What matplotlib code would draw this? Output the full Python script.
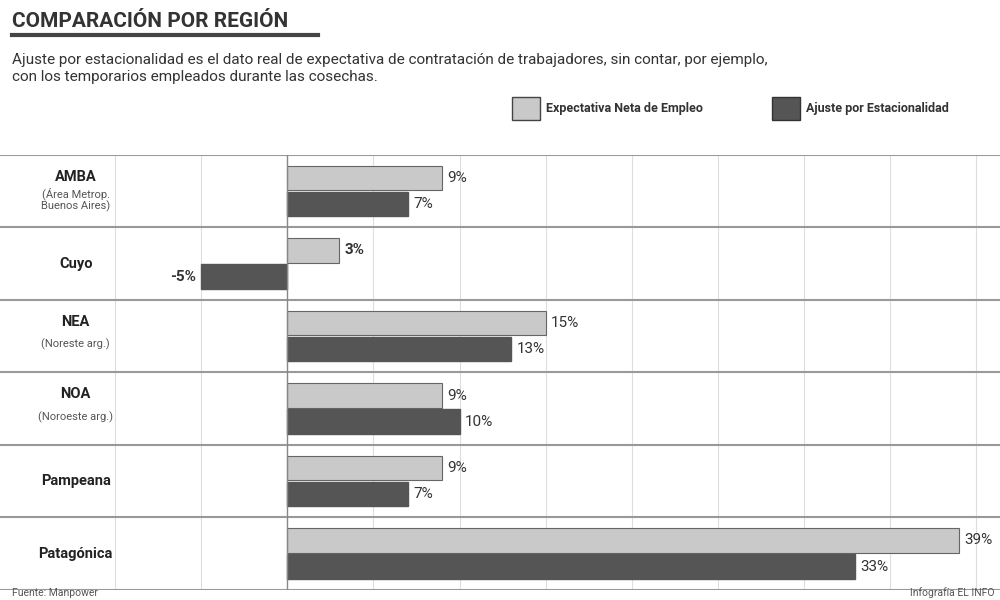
import matplotlib
matplotlib.use("Agg")
import matplotlib.pyplot as plt
import numpy as np

REGIONS = ["AMBA", "Cuyo", "NEA", "NOA", "Pampeana", "Patagónica"]
SUBLABELS = ["(Área Metrop.\nBuenos Aires)", "", "(Noreste arg.)", "(Noroeste arg.)", "", ""]
EXPECTATIVA = [9, 3, 15, 9, 9, 39]
AJUSTE = [7, -5, 13, 10, 7, 33]
LIGHT = "#c9c9c9"
DARK = "#555555"
FONT = ["Roboto", "DejaVu Sans"]

fig = plt.figure(figsize=(10, 6), dpi=100)
fig.patch.set_facecolor("white")

fig.text(0.012, 0.948, "COMPARACIÓN POR REGIÓN", fontsize=15, fontweight="bold",
         color="#333333", family=FONT, va="bottom")
fig.add_artist(plt.Line2D([0.012, 0.318], [0.942, 0.942], color="#444444", lw=3))
fig.text(0.012, 0.912, "Ajuste por estacionalidad es el dato real de expectativa de contratación de trabajadores, sin contar, por ejemplo,\ncon los temporarios empleados durante las cosechas.",
         fontsize=11, color="#333333", va="top", family=FONT, linespacing=1.3)

# legend
fig.patches.append(plt.Rectangle((0.512, 0.800), 0.028, 0.038, transform=fig.transFigure,
                                 facecolor=LIGHT, edgecolor="#444444", lw=1))
fig.text(0.546, 0.819, "Expectativa Neta de Empleo", fontsize=9, fontweight="bold",
         va="center", color="#333333", family=FONT)
fig.patches.append(plt.Rectangle((0.772, 0.800), 0.028, 0.038, transform=fig.transFigure,
                                 facecolor=DARK, edgecolor="#333333", lw=1))
fig.text(0.806, 0.819, "Ajuste por Estacionalidad", fontsize=9, fontweight="bold",
         va="center", color="#333333", family=FONT)

ax = fig.add_axes([0, 0.017, 1, 0.725])
n = len(REGIONS)
xmin, xmax = -16.7, 41.4
ax.set_xlim(xmin, xmax)
ax.set_ylim(n, 0)
for s in ax.spines.values():
    s.set_visible(False)
ax.set_xticks([])
ax.set_yticks([])

for g in np.arange(-10, 41, 5):
    ax.axvline(g, color="#dddddd", lw=0.8, zorder=0)
ax.axvline(0, color="#888888", lw=1, zorder=3)
for k in range(n + 1):
    ax.axhline(k, color="#999999", lw=1.5, zorder=1)

h = 0.34
for i in range(n):
    y1 = i + 0.5 - h / 2 - 0.01
    y2 = i + 0.5 + h / 2 + 0.01
    ax.barh(y1, EXPECTATIVA[i], height=h, color=LIGHT, edgecolor="#666666", lw=0.8, zorder=2)
    ax.barh(y2, AJUSTE[i], height=h, color=DARK, edgecolor=DARK, zorder=2)
    bold = REGIONS[i] == "Cuyo"
    for v, y in ((EXPECTATIVA[i], y1), (AJUSTE[i], y2)):
        if v >= 0:
            ax.text(v + 0.3, y, f"{v}%", va="center", ha="left", fontsize=11,
                    fontweight="bold" if bold else "normal", color="#333333", family=FONT)
        else:
            ax.text(v - 0.3, y, f"{v}%", va="center", ha="right", fontsize=11,
                    fontweight="bold", color="#333333", family=FONT)
    lx = -12.3
    if SUBLABELS[i]:
        ax.text(lx, i + 0.3, REGIONS[i], ha="center", va="center", fontsize=10.5,
                fontweight="bold", color="#222222", family=FONT)
        ax.text(lx, i + 0.62, SUBLABELS[i], ha="center", va="center", fontsize=8,
                color="#555555", family=FONT, linespacing=1.1)
    else:
        ax.text(lx, i + 0.5, REGIONS[i], ha="center", va="center", fontsize=10.5,
                fontweight="bold", color="#222222", family=FONT)

fig.text(0.012, 0.004, "Fuente: Manpower", fontsize=7.5, color="#555555", va="bottom", family=FONT)
fig.text(0.995, 0.004, "Infografía EL INFO", fontsize=7.5, color="#555555", va="bottom",
         ha="right", family=FONT)

fig.savefig("out.png", dpi=100)
